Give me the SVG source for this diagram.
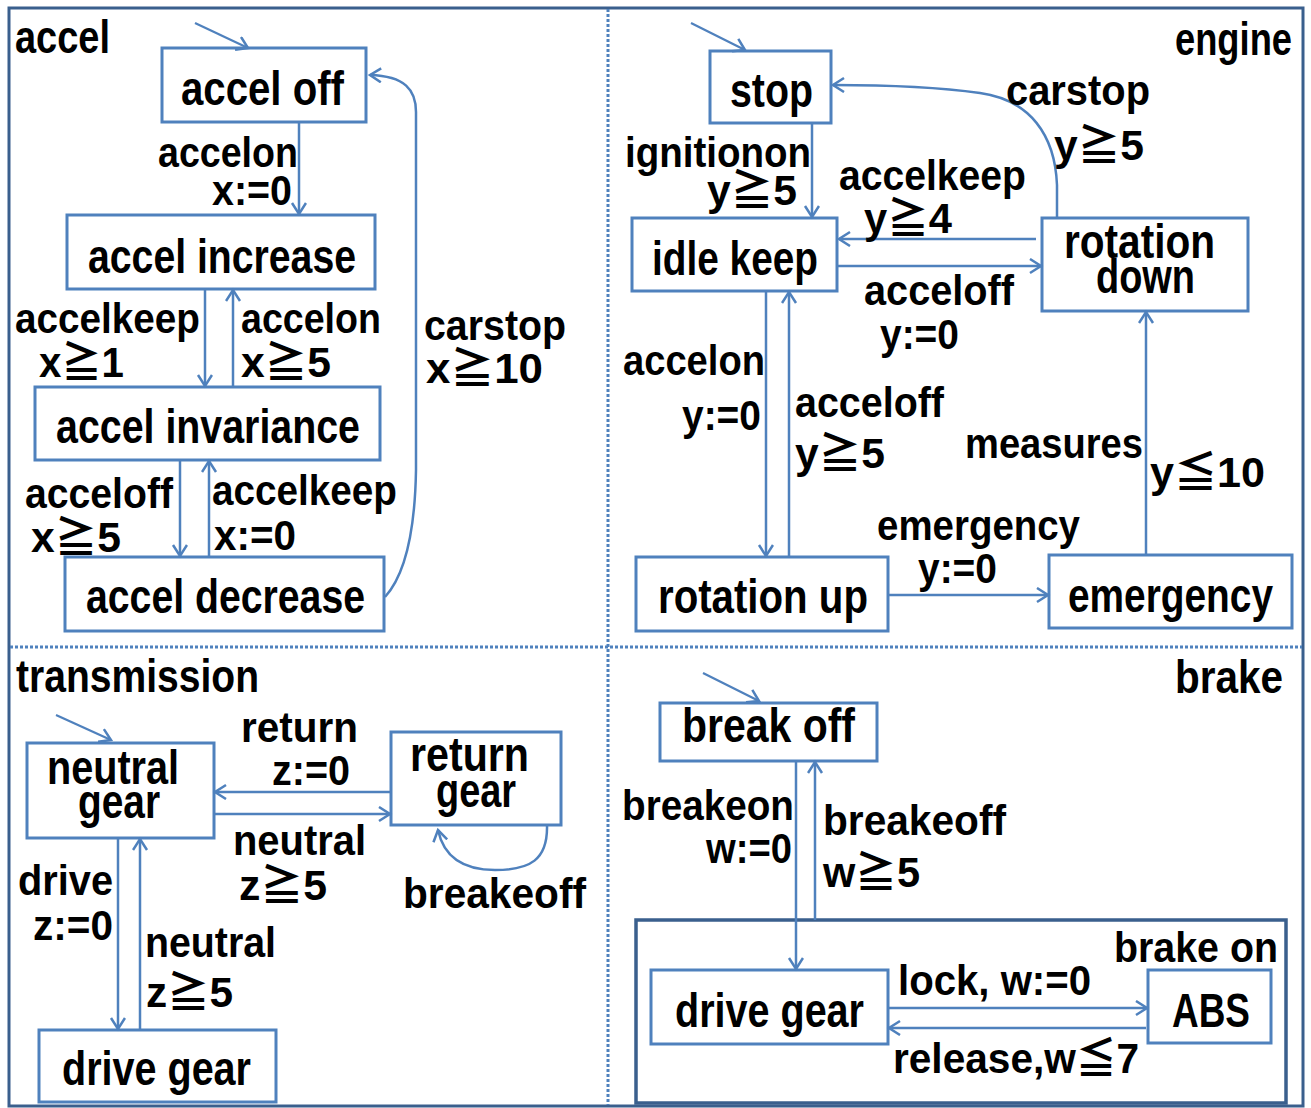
<svg xmlns="http://www.w3.org/2000/svg" width="1311" height="1108" viewBox="0 0 1311 1108">
  <defs>
    <style>
      .state { fill: #ffffff; stroke: #4f81bd; stroke-width: 3; }
      .composite { fill: none; stroke: #3a5f8d; stroke-width: 3.5; }
      .conn { fill: none; stroke: #4f81bd; stroke-width: 2.5; marker-end: url(#arrow); }
      .init { fill: none; stroke: #4f81bd; stroke-width: 2.2; marker-end: url(#arrow); }
      .divider { fill: none; stroke: #4f81bd; stroke-width: 3; stroke-dasharray: 3 2; }
      text { font-family: "Liberation Sans", "Noto Sans CJK JP", sans-serif; font-weight: bold; font-size: 48px; fill: #000000; }
      text.title { font-size: 46px; }
      text.lbl { font-size: 42px; }
    </style>
    <marker id="arrow" markerUnits="userSpaceOnUse" markerWidth="16" markerHeight="18" refX="12" refY="8" orient="auto">
      <path d="M1,1 L12,8 L1,15" fill="none" stroke="#4f81bd" stroke-width="2.5"/>
    </marker>
  </defs>

  <rect x="0" y="0" width="1311" height="1108" fill="#ffffff"/>

  <!-- outer frame and quadrant dividers -->
  <rect x="9" y="8" width="1294" height="1098" fill="none" stroke="#3a5f8d" stroke-width="3"/>
  <line class="divider" x1="608" y1="9" x2="608" y2="1105"/>
  <line class="divider" x1="10" y1="647" x2="1302" y2="647"/>

  <!-- region titles -->
  <text class="title" x="15" y="53" textLength="95" lengthAdjust="spacingAndGlyphs">accel</text>
  <text class="title" x="1175" y="55" textLength="117" lengthAdjust="spacingAndGlyphs">engine</text>
  <text class="title" x="16" y="692" textLength="243" lengthAdjust="spacingAndGlyphs">transmission</text>
  <text class="title" x="1175" y="693" textLength="108" lengthAdjust="spacingAndGlyphs">brake</text>

  <!-- accel states -->
  <g id="accel-off">
    <rect class="state" x="162" y="48" width="204" height="74"/>
    <text x="181" y="105" textLength="163" lengthAdjust="spacingAndGlyphs">accel off</text>
  </g>
  <g id="accel-increase">
    <rect class="state" x="67" y="215" width="308" height="74"/>
    <text x="88" y="273" textLength="268" lengthAdjust="spacingAndGlyphs">accel increase</text>
  </g>
  <g id="accel-invariance">
    <rect class="state" x="35" y="387" width="345" height="73"/>
    <text x="56" y="443" textLength="304" lengthAdjust="spacingAndGlyphs">accel invariance</text>
  </g>
  <g id="accel-decrease">
    <rect class="state" x="65" y="557" width="319" height="74"/>
    <text x="86" y="613" textLength="279" lengthAdjust="spacingAndGlyphs">accel decrease</text>
  </g>

  <!-- engine states -->
  <g id="engine-stop">
    <rect class="state" x="710" y="51" width="121" height="72"/>
    <text x="730" y="107" textLength="83" lengthAdjust="spacingAndGlyphs">stop</text>
  </g>
  <g id="engine-idle-keep">
    <rect class="state" x="632" y="218" width="205" height="73"/>
    <text x="652" y="275" textLength="166" lengthAdjust="spacingAndGlyphs">idle keep</text>
  </g>
  <g id="engine-rotation-down">
    <rect class="state" x="1042" y="218" width="206" height="93"/>
    <text x="1064" y="258" textLength="151" lengthAdjust="spacingAndGlyphs">rotation</text>
    <text x="1096" y="293" textLength="99" lengthAdjust="spacingAndGlyphs">down</text>
  </g>
  <g id="engine-rotation-up">
    <rect class="state" x="636" y="557" width="252" height="74"/>
    <text x="658" y="613" textLength="210" lengthAdjust="spacingAndGlyphs">rotation up</text>
  </g>
  <g id="engine-emergency">
    <rect class="state" x="1049" y="555" width="243" height="73"/>
    <text x="1068" y="612" textLength="205" lengthAdjust="spacingAndGlyphs">emergency</text>
  </g>

  <!-- transmission states -->
  <g id="trans-neutral-gear">
    <rect class="state" x="27" y="743" width="187" height="95"/>
    <text x="47" y="784" textLength="132" lengthAdjust="spacingAndGlyphs">neutral</text>
    <text x="78" y="818" textLength="82" lengthAdjust="spacingAndGlyphs">gear</text>
  </g>
  <g id="trans-return-gear">
    <rect class="state" x="391" y="732" width="170" height="93"/>
    <text x="410" y="771" textLength="119" lengthAdjust="spacingAndGlyphs">return</text>
    <text x="436" y="807" textLength="80" lengthAdjust="spacingAndGlyphs">gear</text>
  </g>
  <g id="trans-drive-gear">
    <rect class="state" x="39" y="1030" width="237" height="72"/>
    <text x="62" y="1085" textLength="189" lengthAdjust="spacingAndGlyphs">drive gear</text>
  </g>

  <!-- brake states -->
  <g id="brake-break-off">
    <rect class="state" x="660" y="703" width="217" height="58"/>
    <text x="682" y="742" textLength="173" lengthAdjust="spacingAndGlyphs">break off</text>
  </g>
  <g id="brake-on">
    <rect class="composite" x="636" y="920" width="650" height="183"/>
    <text class="lbl" x="1114" y="962" textLength="164" lengthAdjust="spacingAndGlyphs">brake on</text>
    <g id="brake-drive-gear">
      <rect class="state" x="651" y="970" width="237" height="74"/>
      <text x="675" y="1027" textLength="189" lengthAdjust="spacingAndGlyphs">drive gear</text>
    </g>
    <g id="brake-abs">
      <rect class="state" x="1148" y="970" width="123" height="73"/>
      <text x="1172" y="1027" textLength="78" lengthAdjust="spacingAndGlyphs">ABS</text>
    </g>
  </g>

  <!-- transitions -->
  <g id="connectors">
    <!-- accel -->
    <path class="init" d="M195,23 L248,48"/>
    <path class="conn" d="M299,122 L299,214"/>
    <path class="conn" d="M205,289 L205,386"/>
    <path class="conn" d="M233,387 L233,290"/>
    <path class="conn" d="M180,460 L180,556"/>
    <path class="conn" d="M209,557 L209,461"/>
    <path class="conn" d="M385,597 C405,575 415,530 416,470 L416,112 C416,90 405,76 370,75"/>

    <!-- engine -->
    <path class="init" d="M691,23 L745,50"/>
    <path class="conn" d="M812,123 L812,217"/>
    <path class="conn" d="M1057,218 L1057,185 C1055,135 1030,100 980,93 C930,86 880,85 833,85"/>
    <path class="conn" d="M1036,239 L839,239"/>
    <path class="conn" d="M837,266 L1041,266"/>
    <path class="conn" d="M766,291 L766,556"/>
    <path class="conn" d="M789,557 L789,292"/>
    <path class="conn" d="M1146,555 L1146,312"/>
    <path class="conn" d="M888,595 L1048,595"/>

    <!-- transmission -->
    <path class="init" d="M56,715 L111,740"/>
    <path class="conn" d="M391,792 L215,792"/>
    <path class="conn" d="M214,814 L390,814"/>
    <path class="conn" d="M547,825 C548,860 530,870 495,870 C465,870 444,858 438,830"/>
    <path class="conn" d="M118,838 L118,1029"/>
    <path class="conn" d="M140,1030 L140,839"/>

    <!-- brake -->
    <path class="init" d="M703,673 L759,701"/>
    <path class="conn" d="M796,761 L796,969"/>
    <path class="conn" d="M815,920 L815,762"/>
    <path class="conn" d="M888,1008 L1147,1008"/>
    <path class="conn" d="M1146,1028 L889,1028"/>

    <!-- accel labels -->
    <text class="lbl" x="158" y="167" textLength="140" lengthAdjust="spacingAndGlyphs">accelon</text>
    <text class="lbl" x="212" y="205" textLength="80" lengthAdjust="spacingAndGlyphs">x:=0</text>
    <text class="lbl" x="15" y="333" textLength="185" lengthAdjust="spacingAndGlyphs">accelkeep</text>
    <text class="lbl" x="39" y="377" textLength="85" lengthAdjust="spacingAndGlyphs">x≧1</text>
    <text class="lbl" x="241" y="333" textLength="140" lengthAdjust="spacingAndGlyphs">accelon</text>
    <text class="lbl" x="241" y="377" textLength="90" lengthAdjust="spacingAndGlyphs">x≧5</text>
    <text class="lbl" x="424" y="340" textLength="142" lengthAdjust="spacingAndGlyphs">carstop</text>
    <text class="lbl" x="426" y="383" textLength="117" lengthAdjust="spacingAndGlyphs">x≧10</text>
    <text class="lbl" x="25" y="508" textLength="148" lengthAdjust="spacingAndGlyphs">acceloff</text>
    <text class="lbl" x="31" y="552" textLength="90" lengthAdjust="spacingAndGlyphs">x≧5</text>
    <text class="lbl" x="212" y="505" textLength="185" lengthAdjust="spacingAndGlyphs">accelkeep</text>
    <text class="lbl" x="214" y="550" textLength="82" lengthAdjust="spacingAndGlyphs">x:=0</text>

    <!-- engine labels -->
    <text class="lbl" x="625" y="167" textLength="186" lengthAdjust="spacingAndGlyphs">ignitionon</text>
    <text class="lbl" x="707" y="205" textLength="90" lengthAdjust="spacingAndGlyphs">y≧5</text>
    <text class="lbl" x="1006" y="105" textLength="144" lengthAdjust="spacingAndGlyphs">carstop</text>
    <text class="lbl" x="1054" y="160" textLength="90" lengthAdjust="spacingAndGlyphs">y≧5</text>
    <text class="lbl" x="839" y="190" textLength="187" lengthAdjust="spacingAndGlyphs">accelkeep</text>
    <text class="lbl" x="864" y="233" textLength="88" lengthAdjust="spacingAndGlyphs">y≧4</text>
    <text class="lbl" x="864" y="305" textLength="150" lengthAdjust="spacingAndGlyphs">acceloff</text>
    <text class="lbl" x="880" y="349" textLength="79" lengthAdjust="spacingAndGlyphs">y:=0</text>
    <text class="lbl" x="623" y="375" textLength="142" lengthAdjust="spacingAndGlyphs">accelon</text>
    <text class="lbl" x="682" y="430" textLength="79" lengthAdjust="spacingAndGlyphs">y:=0</text>
    <text class="lbl" x="795" y="417" textLength="149" lengthAdjust="spacingAndGlyphs">acceloff</text>
    <text class="lbl" x="795" y="468" textLength="90" lengthAdjust="spacingAndGlyphs">y≧5</text>
    <text class="lbl" x="965" y="458" textLength="178" lengthAdjust="spacingAndGlyphs">measures</text>
    <text class="lbl" x="1150" y="487" textLength="115" lengthAdjust="spacingAndGlyphs">y≦10</text>
    <text class="lbl" x="877" y="540" textLength="203" lengthAdjust="spacingAndGlyphs">emergency</text>
    <text class="lbl" x="918" y="583" textLength="79" lengthAdjust="spacingAndGlyphs">y:=0</text>

    <!-- transmission labels -->
    <text class="lbl" x="241" y="742" textLength="117" lengthAdjust="spacingAndGlyphs">return</text>
    <text class="lbl" x="272" y="785" textLength="78" lengthAdjust="spacingAndGlyphs">z:=0</text>
    <text class="lbl" x="233" y="855" textLength="133" lengthAdjust="spacingAndGlyphs">neutral</text>
    <text class="lbl" x="239" y="900" textLength="88" lengthAdjust="spacingAndGlyphs">z≧5</text>
    <text class="lbl" x="403" y="908" textLength="183" lengthAdjust="spacingAndGlyphs">breakeoff</text>
    <text class="lbl" x="18" y="895" textLength="95" lengthAdjust="spacingAndGlyphs">drive</text>
    <text class="lbl" x="33" y="940" textLength="80" lengthAdjust="spacingAndGlyphs">z:=0</text>
    <text class="lbl" x="145" y="957" textLength="131" lengthAdjust="spacingAndGlyphs">neutral</text>
    <text class="lbl" x="146" y="1007" textLength="87" lengthAdjust="spacingAndGlyphs">z≧5</text>

    <!-- brake labels -->
    <text class="lbl" x="622" y="820" textLength="172" lengthAdjust="spacingAndGlyphs">breakeon</text>
    <text class="lbl" x="706" y="863" textLength="86" lengthAdjust="spacingAndGlyphs">w:=0</text>
    <text class="lbl" x="823" y="835" textLength="183" lengthAdjust="spacingAndGlyphs">breakeoff</text>
    <text class="lbl" x="823" y="887" textLength="97" lengthAdjust="spacingAndGlyphs">w≧5</text>
    <text class="lbl" x="898" y="995" textLength="193" lengthAdjust="spacingAndGlyphs">lock, w:=0</text>
    <text class="lbl" x="893" y="1073" textLength="246" lengthAdjust="spacingAndGlyphs">release,w≦7</text>
  </g>
</svg>
